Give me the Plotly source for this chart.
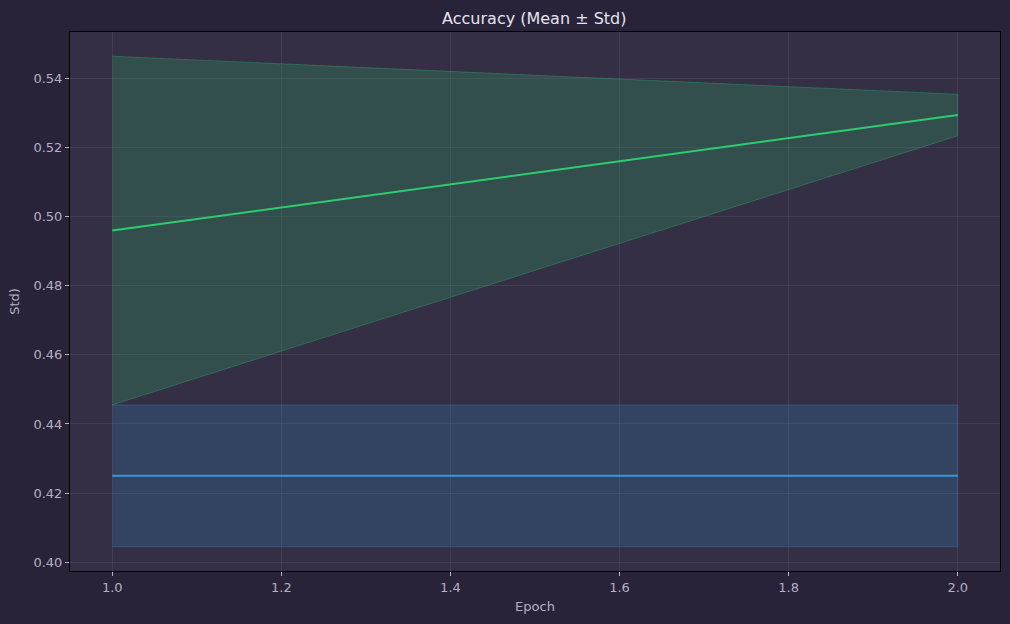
import plotly.graph_objects as go

epochs = [1.0, 2.0]
green_mean = [0.4959, 0.5293]
green_std = [0.0504, 0.0060]
blue_mean = [0.4250, 0.4250]
blue_std = [0.0205, 0.0205]

x_ticks = [1.0, 1.2, 1.4, 1.6, 1.8, 2.0]
y_ticks = [0.40, 0.42, 0.44, 0.46, 0.48, 0.50, 0.52, 0.54]

series = [
    (green_mean, green_std, "rgb(46,204,113)", "rgba(46,204,113,0.2)", "rgba(46,204,113,0.3)"),
    (blue_mean, blue_std, "rgb(52,152,219)", "rgba(52,152,219,0.2)", "rgba(52,152,219,0.3)"),
]

fig = go.Figure()
for mean, std, col, fillc, edgec in series:
    upper = [m + s for m, s in zip(mean, std)]
    lower = [m - s for m, s in zip(mean, std)]
    fig.add_trace(go.Scatter(
        x=epochs + epochs[::-1], y=upper + lower[::-1],
        fill="toself", fillcolor=fillc, mode="lines",
        line=dict(color=edgec, width=1), hoverinfo="skip", showlegend=False))
for mean, std, col, fillc, edgec in series:
    fig.add_trace(go.Scatter(
        x=epochs, y=mean, mode="lines",
        line=dict(color=col, width=2), showlegend=False))

tick_font = dict(family="DejaVu Sans", size=13, color="#b4b0c4")
axis_common = dict(
    showgrid=True, gridcolor="rgba(255,255,255,0.07)", gridwidth=1,
    zeroline=False, showline=True, linecolor="black", linewidth=1, mirror=True,
    ticks="outside", ticklen=4, tickcolor="#b4b0c4", tickfont=tick_font,
)

fig.update_layout(
    width=1010, height=624,
    paper_bgcolor="rgb(40,35,56)", plot_bgcolor="rgb(52,47,68)",
    margin=dict(l=70, r=10, t=32, b=53),
    title=dict(text="Accuracy (Mean ± Std)", x=0.529, xanchor="center", y=0.971, yanchor="middle",
               font=dict(family="DejaVu Sans", size=16, color="#e6e4ee")),
    xaxis=dict(range=[0.95, 2.05], tickvals=x_ticks, ticktext=[f"{v:.1f}" for v in x_ticks],
               title=dict(text="Epoch", font=dict(family="DejaVu Sans", size=13, color="#b4b0c4"), standoff=8),
               **axis_common),
    yaxis=dict(range=[0.3975, 0.5533], tickvals=y_ticks, ticktext=[f"{v:.2f}" for v in y_ticks],
               title=dict(text="Std)", font=dict(family="DejaVu Sans", size=13, color="#b4b0c4"), standoff=10),
               **axis_common),
)

fig.write_html("out.html")
